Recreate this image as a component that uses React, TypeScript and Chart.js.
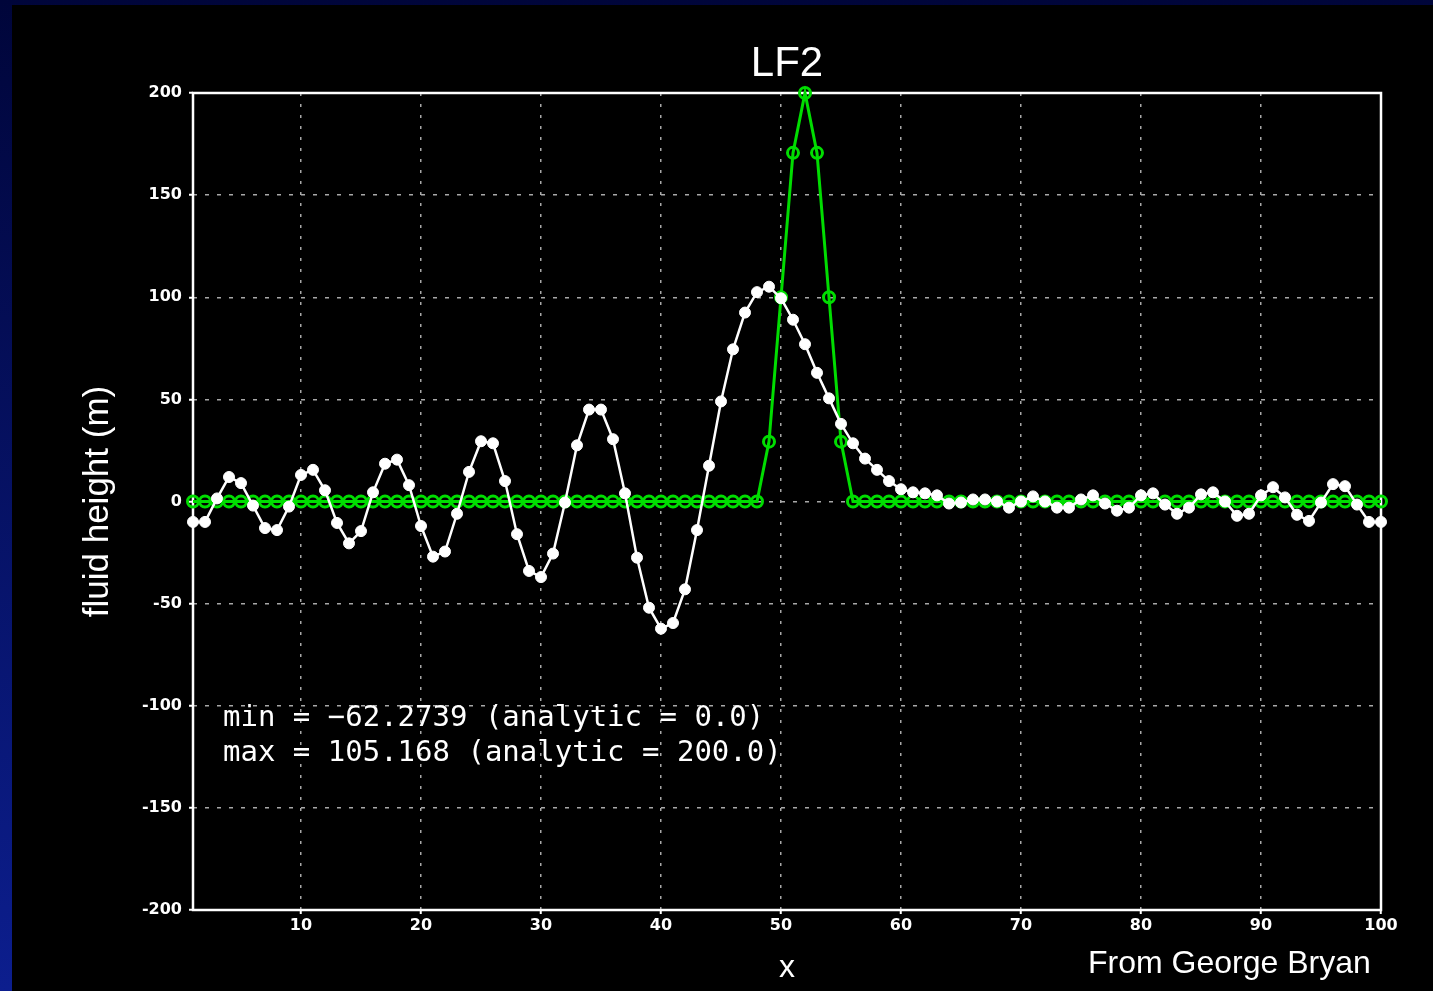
import React, { useEffect, useRef } from "react";
import { Chart, registerables } from "chart.js";
Chart.register(...registerables);

const xValues = Array.from({ length: 100 }, (_, i) => i + 1);

const numericValues = [
  -10, -10, 1.5, 12, 9, -2, -13, -14, -2.5, 13,
  15.5, 5.5, -10.5, -20.5, -14.5, 4.5, 18.5, 20.5, 8, -12,
  -27, -24.5, -6, 14.5, 29.5, 28.5, 10, -16, -34, -37,
  -25.5, -0.5, 27.5, 45, 45, 30.5, 4, -27.5, -52, -62.27,
  -59.5, -43, -14, 17.5, 49, 74.5, 92.5, 102.5, 105.17, 99.5,
  89, 77, 63, 50.5, 38, 28.5, 21, 15.5, 10, 6,
  4.5, 4, 3, -1, -0.5, 1, 1, 0, -3, 0,
  2.5, 0, -3, -3, 1, 3, -1, -4.5, -3, 3,
  4, -1.5, -6, -3, 3.5, 4.5, 0, -7, -6, 3,
  7, 2, -6.5, -9.5, -0.5, 8.5, 7.5, -1.5, -10, -10,
];

const analyticValues = [
  0, 0, 0, 0, 0, 0, 0, 0, 0, 0,
  0, 0, 0, 0, 0, 0, 0, 0, 0, 0,
  0, 0, 0, 0, 0, 0, 0, 0, 0, 0,
  0, 0, 0, 0, 0, 0, 0, 0, 0, 0,
  0, 0, 0, 0, 0, 0, 0, 0, 29.3, 100,
  170.7, 200, 170.7, 100, 29.3, 0, 0, 0, 0, 0,
  0, 0, 0, 0, 0, 0, 0, 0, 0, 0,
  0, 0, 0, 0, 0, 0, 0, 0, 0, 0,
  0, 0, 0, 0, 0, 0, 0, 0, 0, 0,
  0, 0, 0, 0, 0, 0, 0, 0, 0, 0,
];

const xTicks = [10, 20, 30, 40, 50, 60, 70, 80, 90, 100];
const yMin = -200;
const yMax = 200;
const yStep = 50;

const titleText = "LF2";
const xLabel = "x";
const yLabel = "fluid height (m)";
const statLines = [
  "min = \u221262.2739 (analytic = 0.0)",
  "max = 105.168 (analytic = 200.0)",
];
const creditText = "From George Bryan";

const W = 1433;
const H = 991;

const decorPlugin = {
  id: "decor",
  beforeDraw(chart: any) {
    const ctx = chart.ctx;
    ctx.save();
    const g = ctx.createLinearGradient(0, 0, 0, H);
    g.addColorStop(0, "#00053a");
    g.addColorStop(1, "#0c1e8e");
    ctx.fillStyle = g;
    ctx.fillRect(0, 0, W, H);
    ctx.fillStyle = "#000000";
    ctx.fillRect(12, 5, W - 12, H - 5);
    ctx.restore();
  },
  beforeDatasetsDraw(chart: any) {
    const { ctx, chartArea: a } = chart;
    ctx.save();
    ctx.strokeStyle = "#ffffff";
    ctx.lineWidth = 2.5;
    ctx.strokeRect(a.left, a.top, a.right - a.left, a.bottom - a.top);
    ctx.restore();
  },
  afterDraw(chart: any) {
    const { ctx, chartArea: a } = chart;
    ctx.save();
    ctx.fillStyle = "#ffffff";
    ctx.font = "42px 'Liberation Sans', Arial, sans-serif";
    ctx.textAlign = "center";
    ctx.textBaseline = "alphabetic";
    ctx.fillText(titleText, (a.left + a.right) / 2, 76);
    ctx.font = "32px 'Liberation Sans', Arial, sans-serif";
    ctx.fillText(xLabel, (a.left + a.right) / 2, 977);
    ctx.save();
    ctx.translate(108, (a.top + a.bottom) / 2);
    ctx.rotate(-Math.PI / 2);
    ctx.font = "35px 'Liberation Sans', Arial, sans-serif";
    ctx.textAlign = "center";
    ctx.fillText(yLabel, 0, 0);
    ctx.restore();
    ctx.font = "29px 'DejaVu Sans Mono', monospace";
    ctx.textAlign = "left";
    ctx.textBaseline = "middle";
    ctx.fillText(statLines[0], 223, 718);
    ctx.fillText(statLines[1], 223, 753);
    ctx.font = "32px 'Liberation Sans', Arial, sans-serif";
    ctx.textBaseline = "alphabetic";
    ctx.fillText(creditText, 1088, 973);
    ctx.restore();
  },
};

export default function App() {
  const ref = useRef<HTMLCanvasElement>(null);
  useEffect(() => {
    const chart = new Chart(ref.current!, {
      type: "line",
      data: {
        labels: xValues,
        datasets: [
          {
            data: numericValues,
            borderColor: "#ffffff",
            borderWidth: 2.5,
            pointRadius: 5.5,
            pointBackgroundColor: "#ffffff",
            pointBorderColor: "#ffffff",
            pointBorderWidth: 1,
            tension: 0,
            order: 0,
            clip: false,
          },
          {
            data: analyticValues,
            borderColor: "#00dd00",
            borderWidth: 3,
            pointRadius: 5.5,
            pointBackgroundColor: "rgba(0,0,0,0)",
            pointBorderColor: "#00dd00",
            pointBorderWidth: 3,
            tension: 0,
            order: 1,
            clip: false,
          },
        ],
      } as any,
      options: {
        responsive: false,
        animation: false,
        layout: { padding: { left: 0, top: 93, right: 52, bottom: 0 } },
        plugins: {
          legend: { display: false },
          tooltip: { enabled: false },
          title: { display: false },
        },
        scales: {
          x: {
            type: "linear",
            min: 1,
            max: 100,
            afterBuildTicks: (s: any) => {
              s.ticks = xTicks.map((v) => ({ value: v }));
            },
            afterFit: (s: any) => {
              s.height = 81;
            },
            ticks: {
              color: "#ffffff",
              font: { family: "'DejaVu Sans', sans-serif", size: 16, weight: "bold" },
              padding: 2,
              maxRotation: 0,
              autoSkip: false,
            },
            grid: {
              color: "#a8a8a8",
              lineWidth: 1.5,
              drawTicks: true,
              tickLength: 4,
              tickColor: "#ffffff",
              tickWidth: 2,
              tickBorderDash: [],
            },
            border: { display: false, dash: [3, 8] },
          },
          y: {
            type: "linear",
            min: yMin,
            max: yMax,
            afterFit: (s: any) => {
              s.width = 193;
            },
            ticks: {
              stepSize: yStep,
              color: "#ffffff",
              font: { family: "'DejaVu Sans', sans-serif", size: 16, weight: "bold" },
              padding: 7,
              callback: (v: any) => String(v),
            },
            grid: {
              color: "#a8a8a8",
              lineWidth: 1.5,
              drawTicks: true,
              tickLength: 4,
              tickColor: "#ffffff",
              tickWidth: 2,
              tickBorderDash: [],
            },
            border: { display: false, dash: [4, 8] },
          },
        },
      } as any,
      plugins: [decorPlugin],
    });
    return () => chart.destroy();
  }, []);
  return (
    <div style={{ position: "fixed", left: 0, top: 0, width: W, height: H }}>
      <canvas ref={ref} width={W} height={H} style={{ display: "block", width: W, height: H }} />
    </div>
  );
}
